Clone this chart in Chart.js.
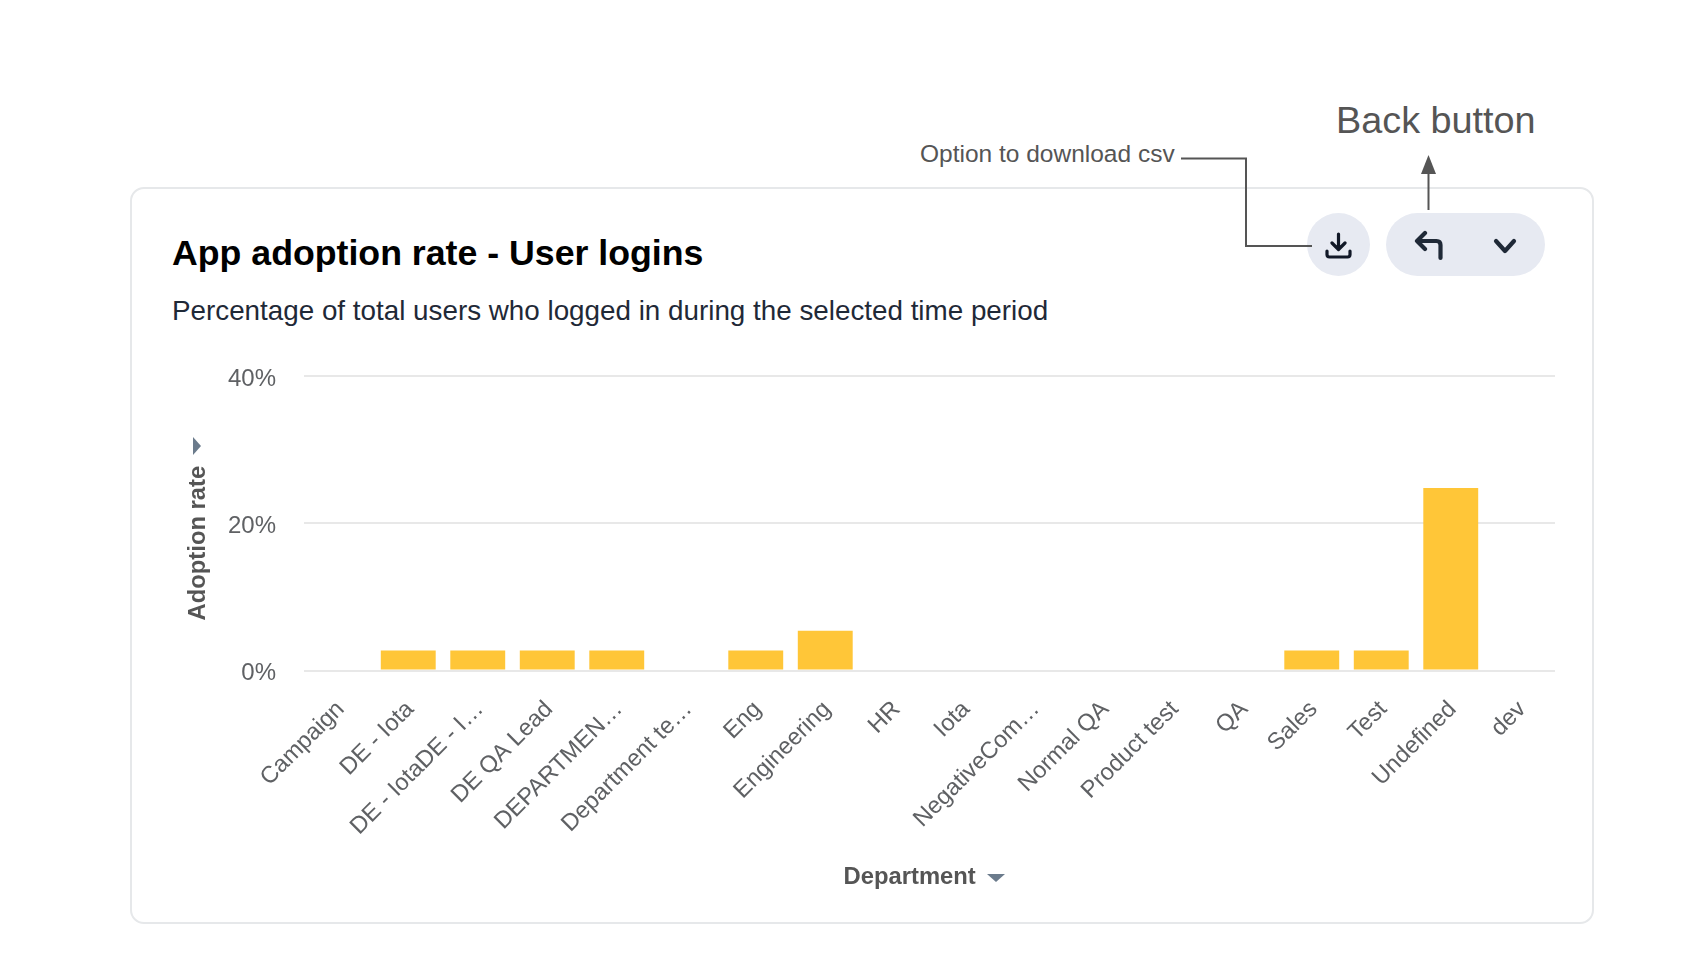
<!DOCTYPE html>
<html>
<head>
<meta charset="utf-8">
<title>App adoption rate - User logins</title>
<script src="https://cdn.jsdelivr.net/npm/chart.js@4"></script>
<style>
  html, body { margin: 0; padding: 0; background: #fff; }
  body { width: 1684px; height: 974px; position: relative; overflow: hidden; font-family: "Liberation Sans", Arial, sans-serif; }
  .card { position: absolute; left: 130px; top: 187px; width: 1460px; height: 733px; border: 2px solid #e6e8ea; border-radius: 14px; }
  .txt { position: absolute; white-space: nowrap; line-height: 1; }
  #title { left: 172px; top: 235.5px; font-size: 35.7px; font-weight: 700; color: #000; }
  #subtitle { left: 172px; top: 297px; font-size: 27.8px; color: #1f2937; }
  #noteCsv { left: 920px; top: 142px; font-size: 24.5px; color: #555; }
  #noteBack { left: 1336px; top: 102px; font-size: 37.8px; color: #555; }
  canvas { position: absolute; left: 0; top: 0; }
  svg { position: absolute; left: 0; top: 0; }
</style>
</head>
<body>
<div class="card"></div>
<div class="txt" id="title">App adoption rate - User logins</div>
<div class="txt" id="subtitle">Percentage of total users who logged in during the selected time period</div>
<div class="txt" id="noteCsv">Option to download csv</div>
<div class="txt" id="noteBack">Back button</div>
<canvas id="chart" width="1684" height="974"></canvas>
<svg width="1684" height="974" fill="none">
  <rect x="1307" y="213" width="63" height="63" rx="31.5" fill="#e7eaf2"/>
  <rect x="1386" y="213" width="159" height="63" rx="31.5" fill="#e7eaf2"/>
  <path d="M1181 158.5H1246V246H1312" stroke="#555" stroke-width="2"/>
  <path d="M1428.5 210V172" stroke="#555" stroke-width="2"/>
  <path d="M1428.5 155L1436 174H1421Z" fill="#555"/>
  <path d="M1338.5 234V249M1332 243L1338.5 249.5L1345 243M1327 251V254.5Q1327 257 1329.5 257H1347.5Q1350 257 1350 254.5V251" stroke="#111827" stroke-width="3.2" stroke-linecap="round" stroke-linejoin="round"/>
  <path d="M1440.5 258V245Q1440.5 241 1436.5 241H1417M1425 233L1417 241L1425 249" stroke="#1f2937" stroke-width="4.2" stroke-linecap="round" stroke-linejoin="round"/>
  <path d="M1496 241L1505 251L1514 241" stroke="#1f2937" stroke-width="4.2" stroke-linecap="round" stroke-linejoin="round"/>
  <path d="M193 437L201 446L193 455Z" fill="#6b7b8c"/>
  <path d="M987 874H1005L996 882Z" fill="#6b7b8c"/>
</svg>
<script>
const departments = [
  'Campaign', 'DE - Iota', 'DE - IotaDE - I…', 'DE QA Lead', 'DEPARTMEN…', 'Department te…',
  'Eng', 'Engineering', 'HR', 'Iota', 'NegativeCom…', 'Normal QA',
  'Product test', 'QA', 'Sales', 'Test', 'Undefined', 'dev'
];
const adoptionRate = [0, 2.7, 2.7, 2.7, 2.7, 0, 2.7, 5.4, 0, 0, 0, 0, 0, 0, 2.7, 2.7, 24.8, 0];

const labelColor = '#5f6164';
const fontFamily = '"Liberation Sans", Arial, sans-serif';

new Chart(document.getElementById('chart'), {
  type: 'bar',
  data: {
    labels: departments,
    datasets: [{
      data: adoptionRate,
      backgroundColor: '#ffc638',
      categoryPercentage: 1,
      barPercentage: 0.79,
    }],
  },
  options: {
    responsive: false,
    animation: false,
    layout: { padding: { left: 184, top: 376, right: 129, bottom: 82 } },
    plugins: { legend: { display: false }, tooltip: { enabled: false } },
    scales: {
      x: {
        grid: { display: false },
        border: { display: false },
        afterFit(scale) { scale.height = 221.5; },
        ticks: {
          autoSkip: false,
          minRotation: 45,
          maxRotation: 45,
          padding: 17,
          labelOffset: 2,
          color: labelColor,
          font: { family: fontFamily, size: 23.6 },
        },
        title: {
          display: true,
          // trailing spaces keep the title left of the dropdown triangle
          text: 'Department' + '\u00a0'.repeat(6),
          color: '#555',
          padding: 0,
          font: { family: fontFamily, size: 23.8, weight: 'bold' },
        },
      },
      y: {
        min: 0,
        max: 40,
        afterFit(scale) { scale.width = 120; },
        grid: { color: '#e8e8e8', lineWidth: 2, drawTicks: false },
        border: { display: false },
        ticks: {
          stepSize: 20,
          padding: 28,
          labelOffset: 3,
          color: labelColor,
          font: { family: fontFamily, size: 24 },
          callback: (v) => v + '%',
        },
        title: {
          display: true,
          text: 'Adoption rate' + '\u00a0'.repeat(6),
          color: '#555',
          padding: 0,
          font: { family: fontFamily, size: 23.8, weight: 'bold' },
        },
      },
    },
  },
});
</script>
</body>
</html>
